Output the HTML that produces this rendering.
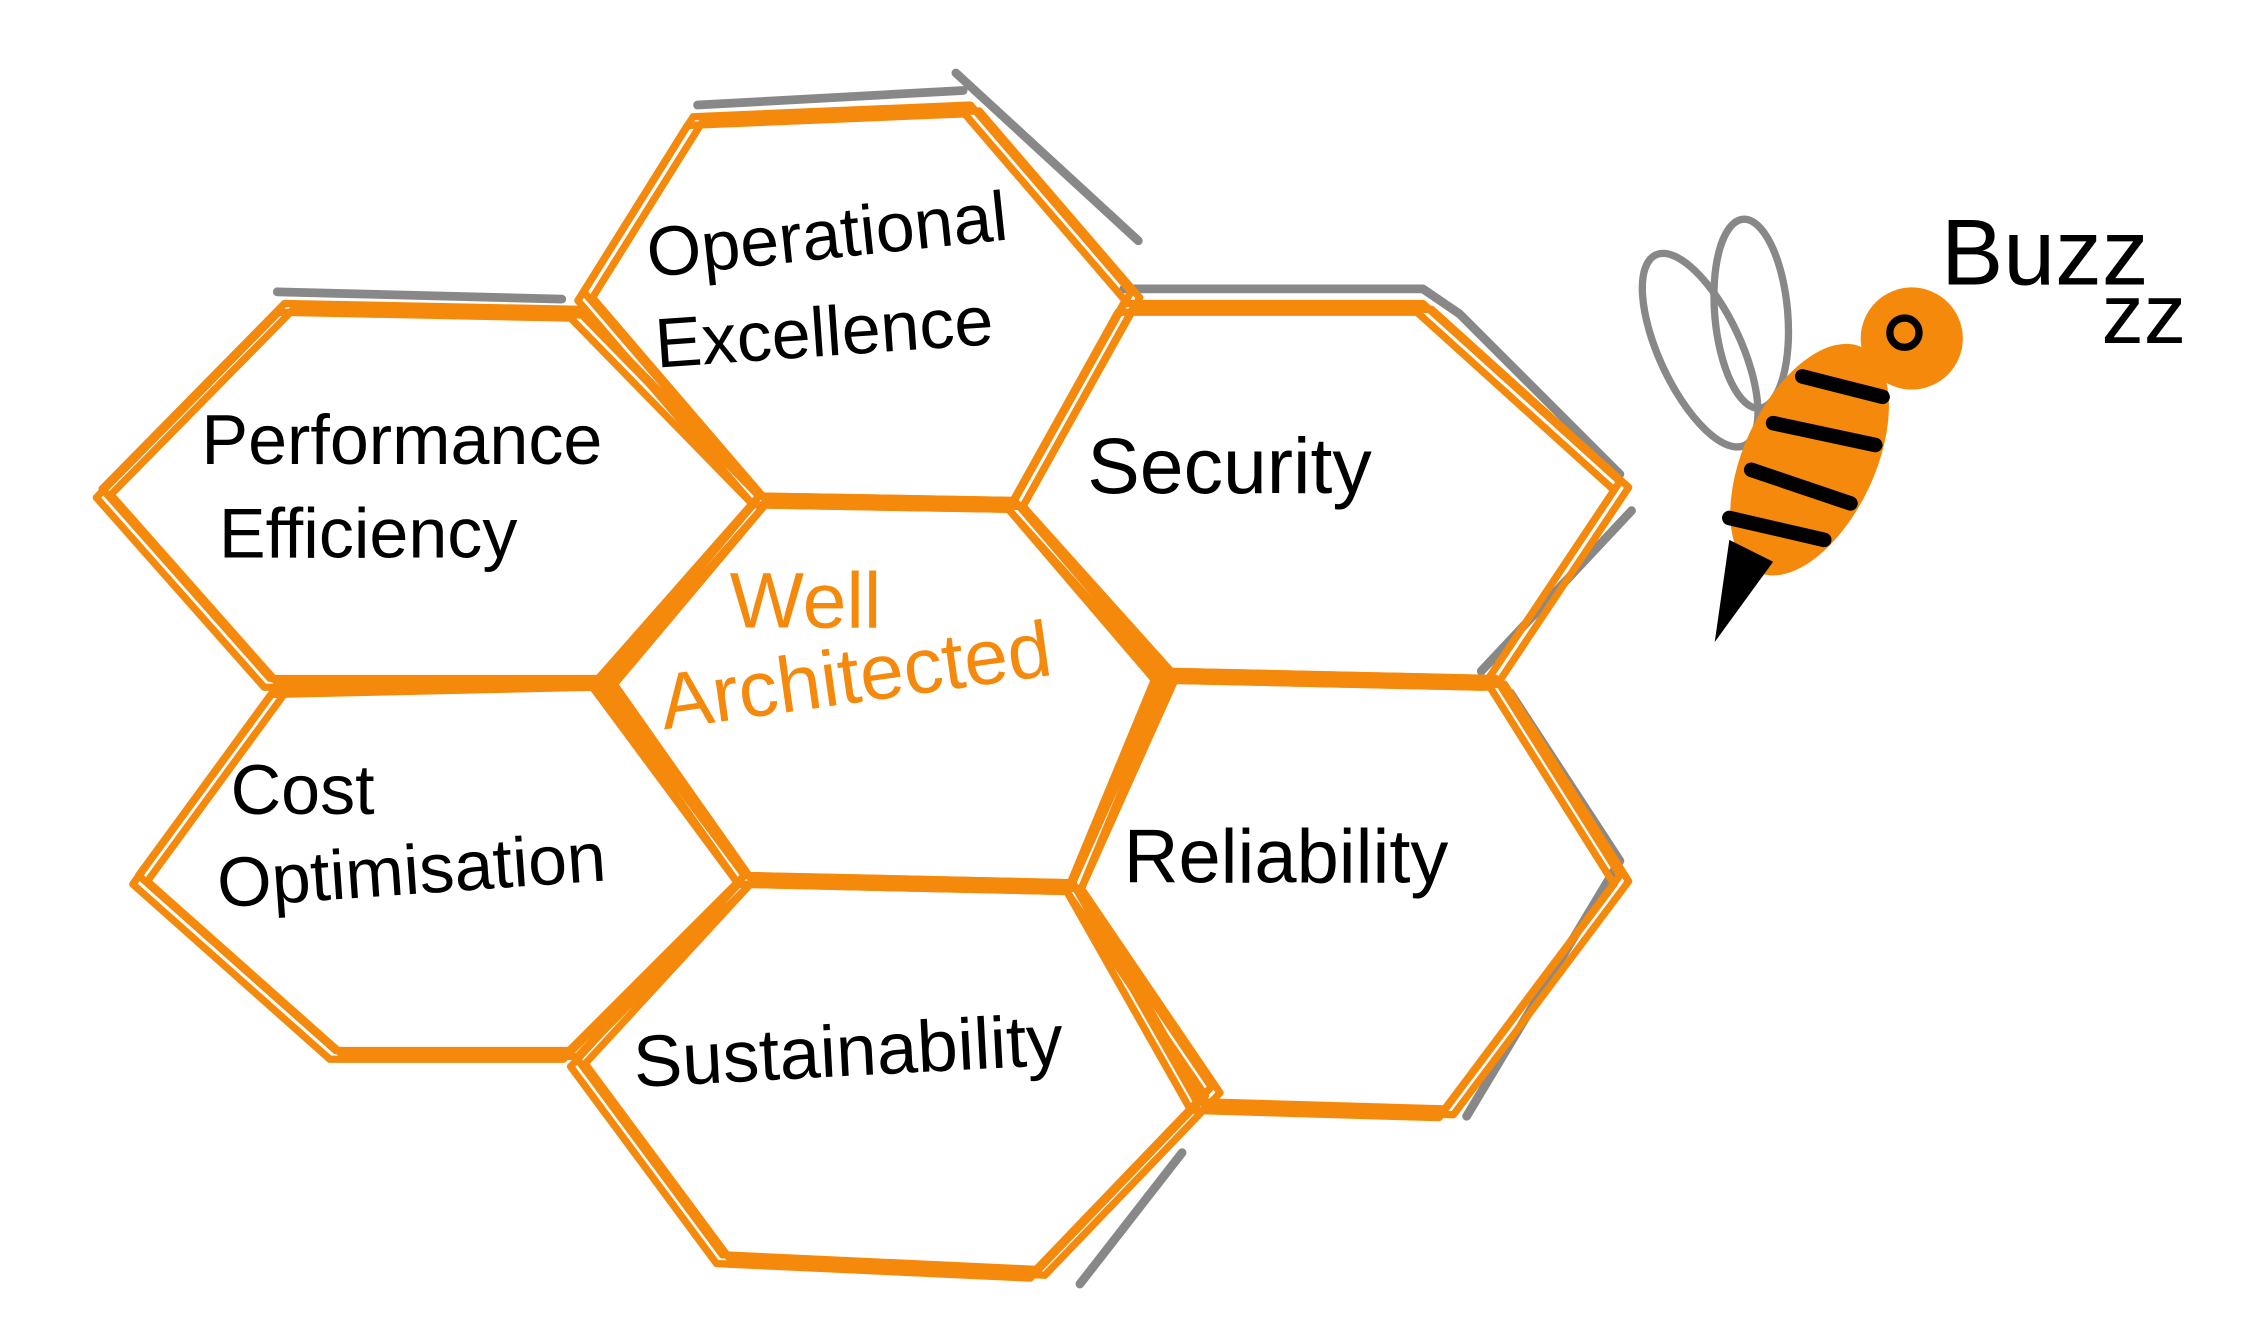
<!DOCTYPE html>
<html><head><meta charset="utf-8"><style>
html,body{margin:0;padding:0;background:#fff;}
svg{display:block;}
text{font-family:"Liberation Sans",sans-serif;}
</style></head><body>
<svg width="2262" height="1319" viewBox="0 0 1550 904" preserveAspectRatio="none" xmlns="http://www.w3.org/2000/svg">
<g fill="none" stroke-linecap="round" stroke-linejoin="round">
<g stroke="#888" stroke-width="6">
<path d="M478 72 L660 62"/>
<path d="M655 50 L780 165"/>
<path d="M190 200 L385 205"/>
<path d="M770 198 L975 198 L1000 215 L1110 325"/>
<path d="M1035 475 L1110 590 L1005 765"/>
<path d="M1118 350 L1015 460"/>
<path d="M810 790 L740 880"/>
</g>
<g stroke="#f5890c" stroke-width="5">
<g id="hx">
<polygon points="520,340 695,343 800,460 735,605 510,600 415,465"/>
<polygon points="475,80 665,72 775,200 695,343 520,340 400,200"/>
<polygon points="195,208 395,212 520,340 410,465 185,465 70,335"/>
<polygon points="770,208 975,208 1110,330 1020,465 795,460 695,343"/>
<polygon points="190,470 410,465 510,600 390,720 230,720 95,600"/>
<polygon points="795,460 1025,465 1110,600 990,760 820,755 735,605"/>
<polygon points="510,600 735,605 830,745 710,870 495,860 395,725"/>
</g>
<use href="#hx" transform="translate(6,4)"/>
<use href="#hx" transform="translate(-4,6)"/>
</g>
</g>
<g fill="#000" font-size="48">
<text x="445" y="190" transform="rotate(-6 445 190)">Operational</text>
<text x="450" y="252" transform="rotate(-4 450 252)">Excellence</text>
<text x="138" y="318">Performance</text>
<text x="150" y="382">Efficiency</text>
<text x="745" y="338" font-size="54">Security</text>
<text x="158" y="558">Cost</text>
<text x="150" y="622" transform="rotate(-4 150 622)">Optimisation</text>
<text x="770" y="605" font-size="52">Reliability</text>
<text x="435" y="745" font-size="50" transform="rotate(-3 435 745)">Sustainability</text>
<text x="1330" y="195" font-size="64">Buzz</text>
<text x="1440" y="235" font-size="58">zz</text>
</g>
<g fill="#f5890c" font-size="54">
<text x="500" y="430">Well</text>
<text x="455" y="500" transform="rotate(-8 455 500)">Architected</text>
</g>
<g>
<ellipse cx="1165" cy="240" rx="28" ry="72" fill="none" stroke="#888" stroke-width="5" transform="rotate(-25 1165 240)"/>
<ellipse cx="1200" cy="215" rx="25" ry="65" fill="none" stroke="#888" stroke-width="5" transform="rotate(-5 1200 215)"/>
<ellipse cx="1240" cy="315" rx="45" ry="85" fill="#f5890c" transform="rotate(25 1240 315)"/>
<circle cx="1310" cy="232" r="35" fill="#f5890c"/>
<circle cx="1305" cy="228" r="10" fill="none" stroke="#000" stroke-width="5"/>
<g stroke="#000" stroke-width="10" stroke-linecap="round">
<path d="M1235 258 L1290 272"/>
<path d="M1215 290 L1285 305"/>
<path d="M1200 322 L1268 345"/>
<path d="M1185 355 L1250 370"/>
</g>
<path d="M1185 370 L1215 385 L1175 440 Z" fill="#000"/>
</g>
</svg>
</body></html>
